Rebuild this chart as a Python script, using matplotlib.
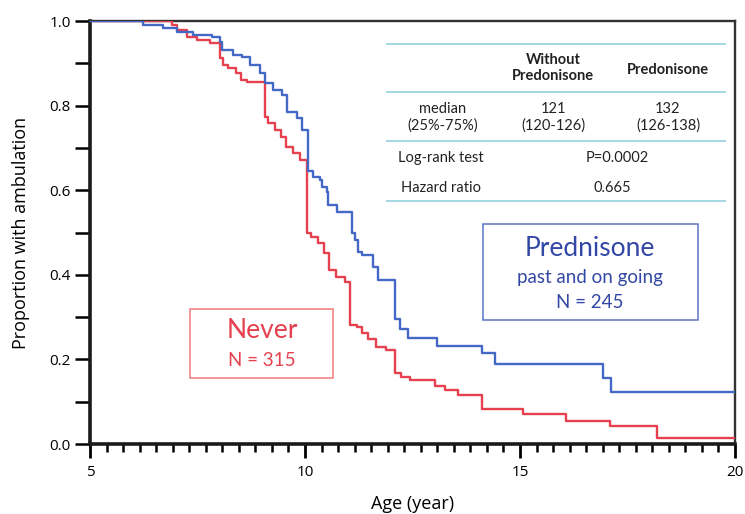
import numpy as np
import matplotlib.pyplot as plt
from matplotlib.patches import Rectangle

# Kaplan-Meier steps (age in years, proportion after the step)
pred_t = [5.0, 6.23, 6.70, 7.02, 7.40, 7.84, 8.02, 8.07, 8.33, 8.53, 8.72, 8.95, 9.07,
          9.26, 9.47, 9.58, 9.81, 9.93, 10.07, 10.19, 10.35, 10.40, 10.51, 10.53, 10.74,
          11.09, 11.16, 11.23, 11.33, 11.58, 11.70, 12.09, 12.21, 12.40, 13.07, 14.12,
          14.42, 16.93, 17.12, 20.0]
pred_s = [1.0, 0.99, 0.983, 0.974, 0.967, 0.962, 0.95, 0.931, 0.92, 0.915, 0.896, 0.877, 0.853,
          0.837, 0.825, 0.785, 0.771, 0.742, 0.645, 0.631, 0.624, 0.608, 0.596, 0.565, 0.548,
          0.499, 0.482, 0.454, 0.447, 0.418, 0.388, 0.295, 0.272, 0.251, 0.232, 0.216,
          0.189, 0.156, 0.123, 0.123]

never_t = [5.0, 6.91, 7.02, 7.26, 7.49, 7.79, 8.02, 8.09, 8.21, 8.40, 8.51, 8.65, 9.07,
           9.14, 9.30, 9.44, 9.56, 9.72, 9.88, 10.05, 10.14, 10.30, 10.44, 10.56, 10.72,
           10.93, 11.05, 11.21, 11.33, 11.47, 11.65, 11.88, 12.09, 12.23, 12.44, 13.02,
           13.26, 13.56, 14.12, 15.07, 16.07, 17.09, 18.19, 20.0]
never_s = [1.0, 0.99, 0.979, 0.962, 0.955, 0.948, 0.912, 0.896, 0.889, 0.877, 0.86, 0.856, 0.773,
           0.759, 0.742, 0.726, 0.702, 0.688, 0.671, 0.499, 0.489, 0.475, 0.452, 0.411, 0.395,
           0.383, 0.281, 0.277, 0.262, 0.248, 0.229, 0.222, 0.168, 0.158, 0.151, 0.138,
           0.128, 0.116, 0.083, 0.071, 0.055, 0.043, 0.015, 0.015]

x_ticks = [5, 10, 15, 20]
y_ticks = [0.0, 0.2, 0.4, 0.6, 0.8, 1.0]

table_header = ["Without\nPredonisone", "Predonisone"]
table_median = ["median\n(25%-75%)", "121\n(120-126)", "132\n(126-138)"]
logrank = ["Log-rank test", "P=0.0002"]
hazard = ["Hazard ratio", "0.665"]

RED = "#e5414f"
BLUE = "#4468c6"
CYAN = "#9ed3df"
FONT = "Open Sans"
TFONT = "Lato"

fig = plt.figure(figsize=(7.45, 5.14), dpi=100)
ax = fig.add_axes([90 / 745, 70 / 514, 645 / 745, 423 / 514])

ax.step(never_t, never_s, where="post", color=RED, lw=1.7, zorder=3)
ax.step(pred_t, pred_s, where="post", color=BLUE, lw=1.7, zorder=4)

ax.set_xlim(5, 20)
ax.set_ylim(0, 1.0)
ax.set_xticks(x_ticks)
ax.set_xticks(np.linspace(5, 20, 40), minor=True)
ax.set_yticks(y_ticks)
ax.set_yticks([0.1, 0.3, 0.5, 0.7, 0.9], minor=True)
ax.set_yticklabels([f"{v:.1f}" for v in y_ticks], fontfamily=FONT, fontsize=11)
ax.set_xticklabels([str(v) for v in x_ticks], fontfamily=FONT, fontsize=11)

ax.tick_params(axis="x", which="major", direction="out", length=10, width=2, pad=5)
ax.tick_params(axis="x", which="minor", direction="out", length=6, width=1.8)
ax.tick_params(axis="y", which="both", direction="out", length=11, width=1.8, pad=3)

for s in ["left", "bottom"]:
    ax.spines[s].set_linewidth(2.6)
    ax.spines[s].set_color("#1a1a1a")
for s in ["top", "right"]:
    ax.spines[s].set_linewidth(1.7)
    ax.spines[s].set_color("#333333")

ax.set_xlabel("Age (year)", fontfamily=FONT, fontsize=13, labelpad=11)
ax.set_ylabel("Proportion with ambulation", fontfamily=FONT, fontsize=13, labelpad=14)

# table in axes coordinates (converted from pixel positions)
def px(xp):
    return 5 + (xp - 90) / 43.0

def py(yp):
    return (444 - yp) / 423.0

for yl in [44, 92, 141, 201]:
    ax.plot([px(387), px(725)], [py(yl), py(yl)], color=CYAN, lw=1.3, zorder=2)

tkw = dict(fontfamily=TFONT, fontsize=10.5, ha="center", va="center", color="#222222",
           linespacing=1.2)
ax.text(px(553), py(68), table_header[0], fontweight="bold", **tkw)
ax.text(px(668), py(70), table_header[1], fontweight="bold", **tkw)
ax.text(px(443), py(117), table_median[0], **tkw)
ax.text(px(553), py(117), table_median[1], **tkw)
ax.text(px(668), py(117), table_median[2], **tkw)
ax.text(px(441), py(158), logrank[0], **tkw)
ax.text(px(617), py(158), logrank[1], **tkw)
ax.text(px(441), py(188), hazard[0], **tkw)
ax.text(px(612), py(188), hazard[1], **tkw)

# group labels
ax.add_patch(Rectangle((px(190), py(378)), px(333) - px(190), py(309) - py(378),
                       fill=False, edgecolor="#ef7b7b", lw=1.1, zorder=5))
ax.text(px(262), py(331), "Never", fontfamily=TFONT, fontsize=19, color=RED,
        ha="center", va="center")
ax.text(px(262), py(361), "N = 315", fontfamily=TFONT, fontsize=13.5, color=RED,
        ha="center", va="center")

ax.add_patch(Rectangle((px(483), py(320)), px(698) - px(483), py(224) - py(320),
                       fill=False, edgecolor="#5a74c4", lw=1.1, zorder=5))
ax.text(px(590), py(248), "Prednisone", fontfamily=TFONT, fontsize=19, color="#3348a6",
        ha="center", va="center")
ax.text(px(590), py(277), "past and on going", fontfamily=TFONT, fontsize=13.5, color="#3348a6",
        ha="center", va="center")
ax.text(px(590), py(303), "N = 245", fontfamily=TFONT, fontsize=13.5, color="#3348a6",
        ha="center", va="center")

fig.savefig("out.png", dpi=100)
